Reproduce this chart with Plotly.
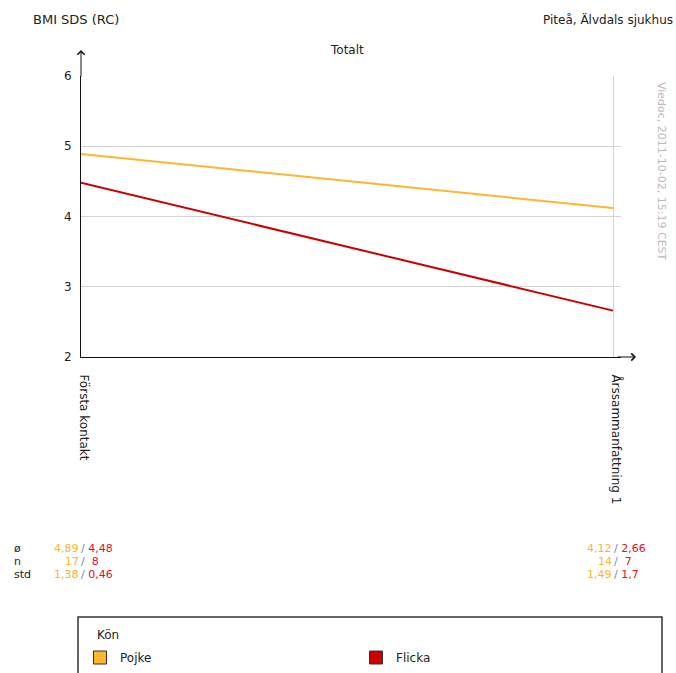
import plotly.graph_objects as go

# Data
categories = ["Första kontakt", "Årssammanfattning 1"]
series_names = ["Pojke", "Flicka"]
pojke_mean = [4.89, 4.12]
flicka_mean = [4.48, 2.66]
pojke_n = [17, 14]
flicka_n = [8, 7]
pojke_std = [1.38, 1.49]
flicka_std = [0.46, 1.7]
y_ticks = [2, 3, 4, 5, 6]

ORANGE = "#FFB52E"
RED = "#CC0000"
TXT_ORANGE = "#FFB22C"
TXT_RED = "#E0102A"
SLASH = "#6A8CB8"
FONT = "DejaVu Sans"

W, H = 676, 673
L, R, T, B = 81, 55, 76, 316
PW, PH = W - L - R, H - T - B


def px(xp):
    return (xp - L) / PW


def py(yp):
    return (T + PH - yp) / PH


xpos = list(range(len(categories)))

fig = go.Figure()
fig.add_trace(go.Scatter(x=xpos, y=pojke_mean, mode="lines", line=dict(color=ORANGE, width=2),
                         showlegend=False, hoverinfo="skip"))
fig.add_trace(go.Scatter(x=xpos, y=flicka_mean, mode="lines", line=dict(color=RED, width=2),
                         showlegend=False, hoverinfo="skip"))
# legend swatches
for name, col in zip(series_names, [ORANGE, RED]):
    fig.add_trace(go.Scatter(x=[None], y=[None], mode="markers", name=name,
                             marker=dict(symbol="square", size=13, color=col,
                                         line=dict(color="#333333", width=1))))

fig.update_layout(
    width=W, height=H,
    margin=dict(l=L, r=R, t=T, b=B, autoexpand=False),
    paper_bgcolor="white", plot_bgcolor="white",
    font=dict(family=FONT, size=12, color="#222222"),
    showlegend=True,
    legend=dict(orientation="h", x=px(80), y=py(643), xanchor="left", yanchor="top",
                bgcolor="rgba(0,0,0,0)", borderwidth=0,
                entrywidth=231, entrywidthmode="pixels",
                font=dict(size=12, color="#222222")),
)

fig.update_xaxes(range=[0, (621 - L) / (613 - L)], tickvals=xpos, ticktext=categories,
                 tickangle=90, showgrid=True, gridcolor="#D4D4D4", gridwidth=1,
                 showline=True, linecolor="#111111", linewidth=1, zeroline=False,
                 ticks="", ticklabelstandoff=14, ticklabelshift=3,
                 tickfont=dict(size=12, color="#222222"))
fig.update_yaxes(range=[2, 6], tickvals=y_ticks, showgrid=True, gridcolor="#D4D4D4", gridwidth=1,
                 showline=True, linecolor="#111111", linewidth=1, zeroline=False,
                 ticks="", ticklabelstandoff=6, tickfont=dict(size=12, color="#222222"))

ann = []
# axis arrows
ann.append(dict(x=0, y=py(50), xref="paper", yref="paper", ax=0, ay=28, text="",
                showarrow=True, arrowhead=4, arrowsize=1.4, arrowwidth=1, arrowcolor="#111111"))
ann.append(dict(x=px(636), y=0, xref="paper", yref="paper", ax=-20, ay=0, text="",
                showarrow=True, arrowhead=4, arrowsize=1.4, arrowwidth=1, arrowcolor="#111111"))
# titles
ann.append(dict(x=px(31), y=py(19), xref="paper", yref="paper", text="BMI SDS (RC)",
                showarrow=False, xanchor="left", yanchor="middle", font=dict(size=13)))
ann.append(dict(x=px(675), y=py(19), xref="paper", yref="paper", text="Piteå, Älvdals sjukhus",
                showarrow=False, xanchor="right", yanchor="middle", font=dict(size=12)))
ann.append(dict(x=px(347), y=py(50), xref="paper", yref="paper", text="Totalt",
                showarrow=False, xanchor="center", yanchor="middle", font=dict(size=12)))
ann.append(dict(x=px(662), y=py(171), xref="paper", yref="paper",
                text="Viedoc, 2011-10-02, 15:19 CEST", textangle=90,
                showarrow=False, xanchor="center", yanchor="middle",
                font=dict(size=11, color="#BBBBBB")))
# legend heading
ann.append(dict(x=px(95), y=py(635), xref="paper", yref="paper", text="Kön",
                showarrow=False, xanchor="left", yanchor="middle", font=dict(size=12)))

# statistics table
row_y = [548, 561, 574]
row_labels = ["ø", "n", "std"]
for lab, yy in zip(row_labels, row_y):
    ann.append(dict(x=px(12), y=py(yy), xref="paper", yref="paper", text=lab, showarrow=False,
                    xanchor="left", yanchor="middle", font=dict(size=11, color="#222222")))


def fmt(v):
    return f"{v:g}".replace(".", ",") if isinstance(v, float) else str(v)


slash_x = [81, 614]
for i, sx in enumerate(slash_x):
    rows = [(f"{pojke_mean[i]:.2f}".replace(".", ","), f"{flicka_mean[i]:.2f}".replace(".", ","), " "),
            (str(pojke_n[i]), str(flicka_n[i]), "  "),
            (fmt(pojke_std[i]), fmt(flicka_std[i]), " ")]
    for (a, b, sp), yy in zip(rows, row_y):
        ann.append(dict(x=px(sx), y=py(yy), xref="paper", yref="paper", text=a, showarrow=False,
                        xanchor="right", yanchor="middle", font=dict(size=11, color=TXT_ORANGE)))
        ann.append(dict(x=px(sx - 2), y=py(yy), xref="paper", yref="paper",
                        text=f"<span style='color:{SLASH}'>/</span>{sp}<span style='color:{TXT_RED}'>{b}</span>",
                        showarrow=False, xanchor="left", yanchor="middle",
                        font=dict(size=11, color=TXT_RED)))

fig.update_layout(annotations=ann)

# legend frame
fig.add_shape(type="rect", xref="paper", yref="paper", x0=px(78), x1=px(662), y0=py(617), y1=py(700),
              line=dict(color="#333333", width=1.5), fillcolor="rgba(0,0,0,0)")

fig.write_html("out.html")
